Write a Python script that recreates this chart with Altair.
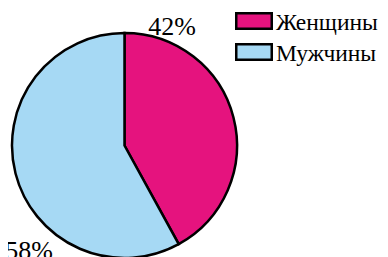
import altair as alt
import pandas as pd

categories = ["Женщины", "Мужчины"]
values = [42, 58]
colors = ["#E5137E", "#A6D9F4"]

df = pd.DataFrame({
    "cat": categories,
    "val": values,
    "idx": list(range(len(categories))),
    "label": [f"{v}%" for v in values],
})

FONT = "Liberation Serif"
FS = 26

color = alt.Color("cat:N", scale=alt.Scale(domain=categories, range=colors), legend=None)

base = alt.Chart(df)

pie = base.mark_arc(stroke="black", strokeWidth=2.5, radius=112.5).encode(
    theta=alt.Theta("val:Q", stack=True),
    order=alt.Order("idx:Q"),
    color=color,
    x=alt.value(116.5),
    y=alt.value(137.5),
)

lab1 = base.transform_filter(alt.datum.cat == categories[0]).mark_text(
    font=FONT, fontSize=FS, baseline="alphabetic", align="center", color="black"
).encode(text="label:N", x=alt.value(164), y=alt.value(27))

lab2 = base.transform_filter(alt.datum.cat == categories[1]).mark_text(
    font=FONT, fontSize=FS, baseline="alphabetic", align="center", color="black"
).encode(text="label:N", x=alt.value(21), y=alt.value(250.5))

ley = alt.Y("cat:N", scale=alt.Scale(domain=categories, range=[13, 44], padding=0), axis=None)

sym = base.mark_point(
    shape="M-1,-0.4366H1V0.4366H-1Z", size=1260, filled=True,
    stroke="black", strokeWidth=2.5, opacity=1
).encode(x=alt.value(246), y=ley, fill=alt.Fill("cat:N", scale=alt.Scale(domain=categories, range=colors), legend=None))

txt = base.mark_text(
    font=FONT, fontSize=23.5, align="left", baseline="alphabetic", dy=8.5, color="black"
).encode(x=alt.value(268), y=ley, text="cat:N")

chart = alt.layer(pie, lab1, lab2, sym, txt).properties(
    width=372, height=249, autosize="none", padding=0
).configure_view(stroke=None)

chart.save("out.html", embed_options={"renderer": "svg", "actions": False})
